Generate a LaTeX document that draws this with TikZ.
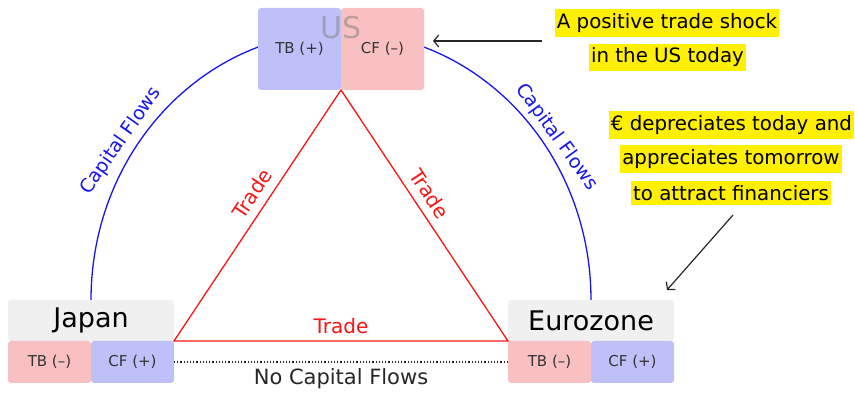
\documentclass[tikz,border=0pt]{standalone}
\usepackage{fontspec}
\setmainfont{DejaVu Sans}
\usetikzlibrary{arrows.meta, positioning}
\definecolor{cblue}{RGB}{192, 192, 248}
\definecolor{cpink}{RGB}{248, 192, 192}
\definecolor{cgray}{RGB}{240, 240, 240}
\definecolor{hyellow}{RGB}{255, 240, 0}
\definecolor{fblue}{RGB}{20, 20, 240}
\definecolor{tred}{RGB}{250, 20, 20}

\begin{document}
\begin{tikzpicture}[
      x=1pt, y=1pt,
      cell/.style ={rounded corners=3pt, inner sep=0pt, outer sep=0pt,
                    minimum width=83pt, minimum height=42pt,
                    font=\fontsize{15}{18}\selectfont, text=black!80},
      pcell/.style={cell, fill=cpink},
      bcell/.style={cell, fill=cblue},
      title/.style={rounded corners=3pt, inner sep=0pt, outer sep=0pt,
                    fill=cgray, minimum width=166pt, minimum height=41pt,
                    font=\fontsize{27}{31}\selectfont},
      note/.style ={fill=hyellow, inner xsep=2pt, inner ysep=4pt,
                    font=\fontsize{19.8}{24}\selectfont},
      flow/.style ={fblue, line width=1.3pt},
      flowlbl/.style={fblue, font=\fontsize{19}{23}\selectfont},
      trade/.style={tred, line width=1.3pt},
      tlbl/.style ={tred, inner sep=2pt, font=\fontsize{20}{24}\selectfont},
      arr/.style  ={-{Straight Barb[length=5pt, width=12pt]}, line width=1.2pt, black!85},
    ]
      \useasboundingbox (0,0) rectangle (855,395);
      \node[title] (jpn) at (91,74.5) {Japan};
      \node[pcell, below right=0pt and 0pt of jpn.south west] (jtb) {TB (–)};
      \node[bcell, right=0pt of jtb] (jcf) {CF (+)};
      \node[title] (eur) at (591,74.5) {Eurozone};
      \node[pcell, below right=0pt and 0pt of eur.south west] (etb) {TB (–)};
      \node[bcell, right=0pt of etb] (ecf) {CF (+)};
      \draw[flow] (jpn.north) arc[start angle=180, end angle=0, x radius=250, y radius=268];
      \node[bcell, minimum height=82pt] (tbUS) at (299.5,346) {TB (+)};
      \node[pcell, minimum height=82pt, right=0pt of tbUS] (cfUS) {CF (–)};
      \node[text=gray, opacity=0.5, font=\fontsize{30}{34}\selectfont] (us) at (341,367) {US};
      \node[flowlbl, rotate=55]  (capL) at (121,254) {Capital Flows};
      \node[flowlbl, rotate=-54] (capR) at (557,258) {Capital Flows};
      \draw[trade] (tbUS.south east)
        -- node[tlbl, sloped, above=6pt, pos=0.45] {Trade} (jpn.south east)
        -- node[tlbl, above=5pt] {Trade} (eur.south west)
        -- node[tlbl, sloped, above=6pt, pos=0.55] {Trade} cycle;
      \draw[black!85, line width=1.2pt, dotted] (jcf.east) -- node[below=3pt, font=\fontsize{21}{25}\selectfont] (noflow) {No Capital Flows} (etb.west);
      \node[note] (shockA) at (667,372)   {A positive trade shock};
      \node[note] (shockB) at (667.5,337.5) {in the US today};
      \node[note] (euroA)  at (731.5,270) {€ depreciates today and};
      \node[note] (euroB)  at (731,236)   {appreciates tomorrow};
      \node[note] (euroC)  at (731,202)   {to attract financiers};
      \coordinate (shockTail) at (542,354);
      \coordinate (euroTail)  at (733,180);
      \draw[arr, shorten >=9pt] (shockTail) -- (cfUS.east |- shockTail);
      \draw[arr] (euroTail) -- ([shift={(-7pt,10pt)}]eur.north east);
    \end{tikzpicture}
\end{document}
